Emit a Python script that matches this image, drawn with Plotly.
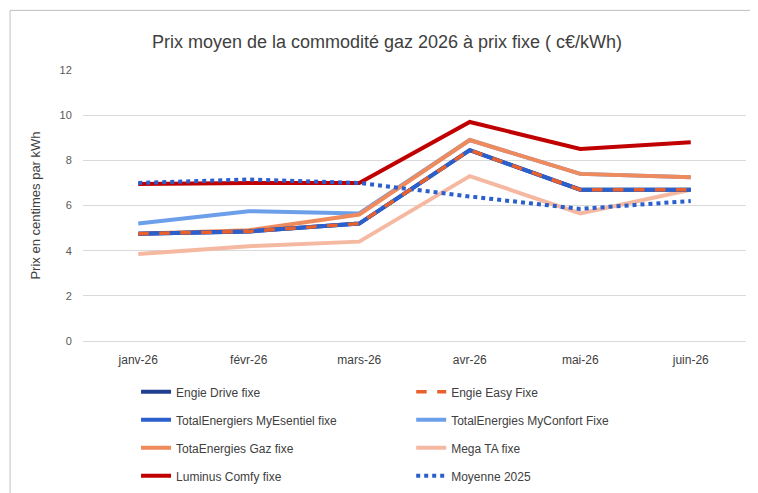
import plotly.graph_objects as go

months = ["janv-26", "févr-26", "mars-26", "avr-26", "mai-26", "juin-26"]

engie_drive = [4.75, 4.85, 5.2, 8.45, 6.7, 6.7]
engie_easy = [4.75, 4.85, 5.2, 8.45, 6.7, 6.7]
total_esentiel = [4.75, 4.85, 5.2, 8.45, 6.7, 6.7]
total_confort = [5.2, 5.75, 5.65, 8.9, 7.4, 7.25]
total_gaz = [4.75, 4.9, 5.6, 8.9, 7.4, 7.25]
mega_ta = [3.85, 4.2, 4.4, 7.3, 5.65, 6.7]
luminus = [6.95, 7.0, 7.0, 9.7, 8.5, 8.8]
moyenne_2025 = [7.0, 7.15, 7.0, 6.4, 5.85, 6.2]

# name, values, colour, dash, legend column
series = [
    ("Engie Drive fixe", engie_drive, "#1F3F8F", "solid", "legend"),
    ("Engie Easy Fixe", engie_easy, "#E8612C", "dash", "legend2"),
    ("TotalEnergiers MyEsentiel fixe", total_esentiel, "#2A5FCC", "solid", "legend"),
    ("TotalEnergies MyConfort Fixe", total_confort, "#6C9FEA", "solid", "legend2"),
    ("TotaEnergies Gaz fixe", total_gaz, "#EF8A5C", "solid", "legend"),
    ("Mega TA fixe", mega_ta, "#F5B9A2", "solid", "legend2"),
    ("Luminus Comfy fixe", luminus, "#C00000", "solid", "legend"),
    ("Moyenne 2025", moyenne_2025, "#2A5FCC", "dot", "legend2"),
]

# draw order: back-to-front so the blue/orange dashes sit on top
order = [5, 3, 4, 6, 7, 0, 2, 1]
fig = go.Figure()
for i in order:
    name, y, color, dash, leg = series[i]
    fig.add_trace(go.Scatter(x=months, y=y, name=name, mode="lines",
                             line=dict(color=color, dash=dash, width=3.5 if dash == "dash" else 4),
                             legend=leg, legendgroup=name, legendrank=i + 1))

legend_common = dict(yanchor="top", xanchor="left", y=-0.13, traceorder="grouped",
                     tracegroupgap=9, bgcolor="rgba(0,0,0,0)",
                     font=dict(size=12, color="#404040"))

fig.update_layout(
    width=758, height=493,
    paper_bgcolor="white", plot_bgcolor="white",
    font=dict(family="Liberation Sans", size=12, color="#404040"),
    title=dict(text="Prix moyen de la commodité gaz 2026 à prix fixe ( c€/kWh)",
               x=0.5, y=0.945, xanchor="center", font=dict(size=18, color="#404040")),
    margin=dict(l=75, r=20, t=62, b=159),
    yaxis=dict(range=[0, 12], dtick=2, gridcolor="#D9D9D9", zeroline=False,
               showline=False, tickfont=dict(size=11, color="#595959"), ticklen=8,
               ticks="outside", tickcolor="white",
               title=dict(text="Prix en centimes par kWh", font=dict(size=13, color="#404040"))),
    xaxis=dict(showline=True, linecolor="#D9D9D9", ticks="outside", tickcolor="white",
               ticklen=8, range=[-0.5, 5.5],
               tickfont=dict(size=12, color="#404040")),
    legend=dict(x=0.08, **legend_common),
    legend2=dict(x=0.495, **legend_common),
    shapes=[dict(type="rect", xref="paper", yref="paper", x0=-0.11, x1=1.027,
                 y0=-0.574, y1=1.22, line=dict(color="#BFBFBF", width=1))],
)

fig.write_html("out.html")
